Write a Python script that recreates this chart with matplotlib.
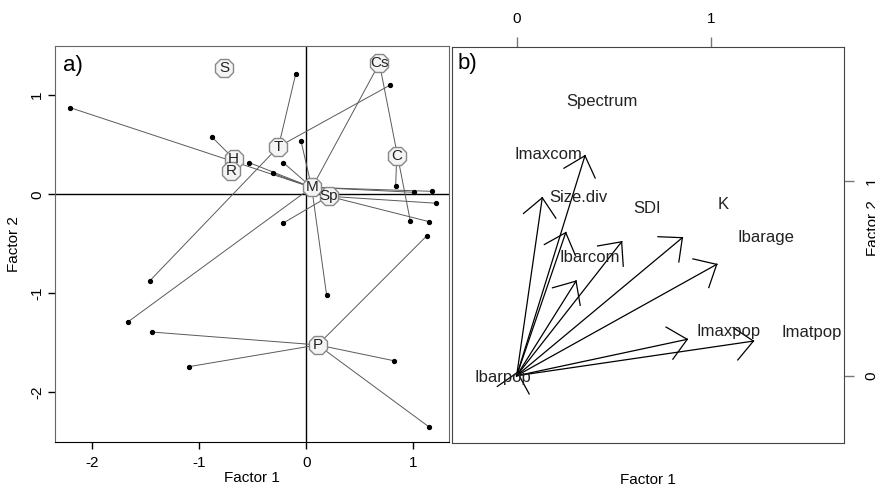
import numpy as np
import matplotlib
matplotlib.use("Agg")
import matplotlib.pyplot as plt

plt.rcParams['font.family'] = ['Liberation Sans', 'DejaVu Sans']
plt.rcParams['axes.unicode_minus'] = False

# a) group centroids
grp_names = ['S', 'Cs', 'T', 'H', 'R', 'C', 'M', 'Sp', 'P']
grp_x = [-0.77, 0.683, -0.26, -0.68, -0.70, 0.845, 0.05, 0.21, 0.107]
grp_y = [1.27, 1.323, 0.48, 0.36, 0.23, 0.39, 0.07, -0.02, -1.52]

# a) sites and their group
site_grp = ['M', 'M', 'M', 'M', 'M', 'M', 'M', 'M', 'M',
            'Cs', 'Cs', 'H', 'T', 'T', 'T', 'C',
            'Sp', 'Sp', 'Sp', 'P', 'P', 'P', 'P', 'P']
site_x = [-2.21, -0.535, -0.31, -0.215, -0.05, 0.19, -1.67, 1.01, 1.17,
          0.06, 0.972, -0.88, -0.10, 0.78, -1.46, 0.835,
          -0.215, 1.21, 1.15, -1.445, -1.10, 0.82, 1.15, 1.125]
site_y = [0.875, 0.32, 0.21, 0.32, 0.54, -1.02, -1.29, 0.02, 0.03,
          0.08, -0.27, 0.576, 1.21, 1.10, -0.87, 0.084,
          -0.29, -0.09, -0.277, -1.39, -1.74, -1.68, -2.35, -0.42]

# b) variable loadings (arrow tips) and label positions
var_names = ['Imaxcom', 'Size.div', 'Ibarcom', 'SDI', 'K', 'Ibarage',
             'Spectrum', 'Imaxpop', 'Imatpop', 'Ibarpop']
arrow_x = [0.352, 0.132, 0.253, 0.541, 0.854, 1.031, 0.306, 0.879, 1.22, 0.004]
arrow_y = [1.13, 0.914, 0.735, 0.688, 0.709, 0.572, 0.486, 0.187, 0.178, 0.017]
label_x = [0.163, 0.318, 0.378, 0.673, 1.065, 1.283, 0.438, 1.094, 1.52, -0.072]
label_y = [1.137, 0.916, 0.606, 0.86, 0.882, 0.711, 1.41, 0.226, 0.221, -0.01]

fig = plt.figure(figsize=(8.75, 4.93), dpi=100)
ax = fig.add_axes([0.0632, 0.1034, 0.4500, 0.8040])
bx = fig.add_axes([0.5166, 0.1008, 0.4480, 0.8045])

# ---- panel a ----
gpos = {n: (x, y) for n, x, y in zip(grp_names, grp_x, grp_y)}
for g, x, y in zip(site_grp, site_x, site_y):
    gx, gy = gpos[g]
    ax.plot([gx, x], [gy, y], color='#5a5a5a', lw=0.7, zorder=2)
ax.plot(site_x, site_y, 'o', color='black', ms=2.8, zorder=3)
ax.axhline(0, color='black', lw=1, zorder=1)
ax.axvline(0, color='black', lw=1, zorder=1)
ax.plot(grp_x, grp_y, '8', ms=13.5, mfc='#f4f4f4', mec='#888888', mew=1, zorder=4)
for n, x, y in zip(grp_names, grp_x, grp_y):
    ax.text(x, y, n, ha='center', va='center', fontsize=11, color='#222222', zorder=5)

ax.set_xlim(-2.346, 1.334)
ax.set_ylim(-2.50, 1.50)
ax.set_xticks([-2, -1, 0, 1])
ax.set_yticks([-2, -1, 0, 1])
ax.tick_params(labelsize=11, length=5, width=1, pad=5)
ax.tick_params(axis='y', pad=3)
plt.setp(ax.get_yticklabels(), rotation=90, va='center')
ax.set_xlabel('Factor 1', fontsize=11)
ax.set_ylabel('Factor 2', fontsize=11)
ax.xaxis.set_label_coords(0.5, -0.072)
ax.yaxis.set_label_coords(-0.087, 0.5)
for s in ax.spines.values():
    s.set_color('#666666')
ax.spines['bottom'].set_color('black')
ax.text(0.02, 0.977, 'a)', transform=ax.transAxes, fontsize=16, va='top', ha='left')

# ---- panel b ----
head = 0.126
phi = np.deg2rad(42)
for x, y in zip(arrow_x, arrow_y):
    bx.plot([0, x], [0, y], color='black', lw=0.9)
    th = np.arctan2(y, x) + np.pi
    for s in (-1, 1):
        bx.plot([x, x + head * np.cos(th + s * phi)],
                [y, y + head * np.sin(th + s * phi)], color='black', lw=0.9)
for n, x, y in zip(var_names, label_x, label_y):
    bx.text(x, y, n, ha='center', va='center', fontsize=12, color='#222222')

bx.set_xlim(-0.333, 1.687)
bx.set_ylim(-0.347, 1.69)
bx.set_xticks([0, 1])
bx.set_yticks([0, 1])
bx.xaxis.tick_top()
bx.yaxis.tick_right()
bx.tick_params(labelsize=11, length=7, width=1, color='#777777', pad=8)
plt.setp(bx.get_yticklabels(), rotation=90, va='center')
bx.set_xlabel('Factor 1', fontsize=11)
bx.xaxis.set_label_position('bottom')
bx.xaxis.set_label_coords(0.5, -0.075)
for s in bx.spines.values():
    s.set_color('#444444')
bx.text(0.0135, 0.984, 'b)', transform=bx.transAxes, fontsize=16, va='top', ha='left')
fig.text(873 / 875, 1 - 228 / 493, 'Factor 2', rotation=90, ha='center', va='center', fontsize=11)

fig.savefig('out.png', dpi=100)
